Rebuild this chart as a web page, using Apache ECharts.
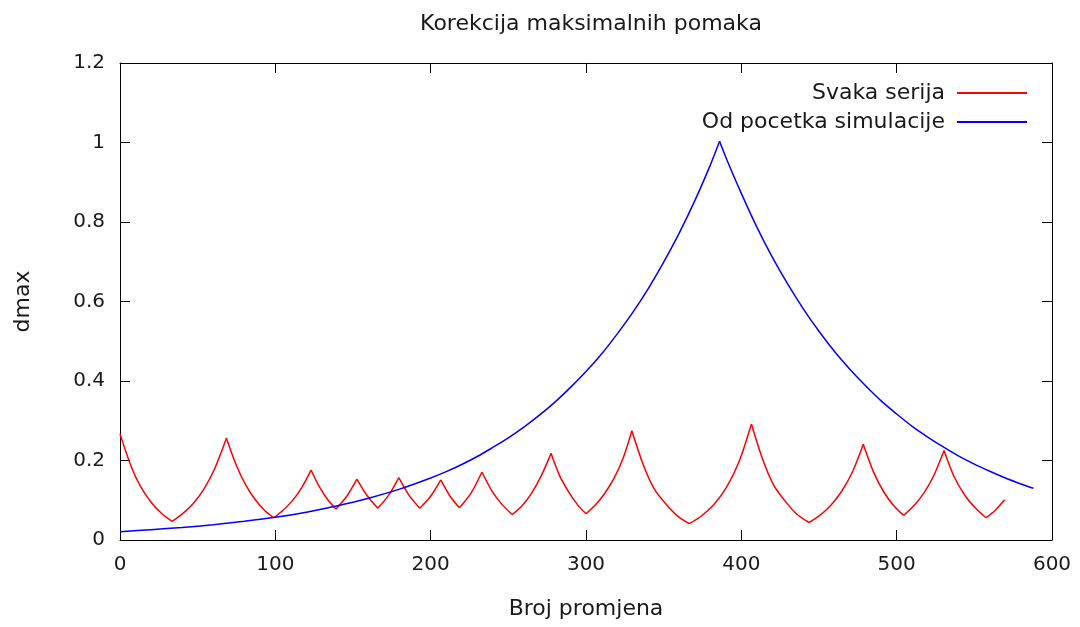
<!DOCTYPE html>
<html>
<head>
<meta charset="utf-8">
<script src="https://cdn.jsdelivr.net/npm/echarts@6/dist/echarts.min.js"></script>
<style>
  html, body { margin: 0; padding: 0; background: #fff; }
  #chart { width: 1080px; height: 627px; }
</style>
</head>
<body>
<div id="chart"></div>
<script>
// values
const redX = [0, 7, 13, 20, 27, 33.5, 40, 47, 54, 61, 68.5, 75, 81, 87, 93, 99, 105, 111, 117, 123,
  128, 134, 139, 146, 152.5, 159, 166, 173, 179.5, 186, 193, 200, 206.5, 212.5, 218.5, 226, 233, 239.5,
  246, 252.5, 259, 265, 271, 277.5, 283, 289, 294.5, 300, 306, 312, 318, 324, 329.5, 337, 344, 352, 359,
  366.5, 374.5, 382.5, 390.5, 398.5, 406.5, 414, 421, 429, 436, 443.5, 450.5, 457.5, 464.5, 471.5, 478.5,
  485, 491.5, 498, 504.5, 511, 517.5, 524, 530.5, 537, 544, 551, 557.5, 563.5, 569.5];
const redY = [0.267, 0.187, 0.136, 0.095, 0.066, 0.047, 0.065, 0.091, 0.128, 0.180, 0.256, 0.187, 0.138,
  0.102, 0.075, 0.056, 0.075, 0.099, 0.132, 0.176, 0.136, 0.100, 0.078, 0.110, 0.153, 0.112, 0.080, 0.113,
  0.157, 0.113, 0.080, 0.110, 0.151, 0.110, 0.081, 0.118, 0.171, 0.123, 0.089, 0.064, 0.087, 0.118, 0.160,
  0.218, 0.162, 0.120, 0.089, 0.066, 0.088, 0.117, 0.155, 0.207, 0.275, 0.188, 0.128, 0.088, 0.060, 0.041,
  0.061, 0.090, 0.133, 0.197, 0.292, 0.200, 0.137, 0.094, 0.064, 0.044, 0.062, 0.087, 0.122, 0.171, 0.241,
  0.172, 0.122, 0.087, 0.062, 0.086, 0.118, 0.163, 0.225, 0.159, 0.112, 0.079, 0.056, 0.075, 0.101];

const blueX = [0, 20, 40, 60, 80, 100, 120, 140, 160, 180, 200, 210, 220, 230, 240, 250, 260, 270, 280,
  290, 300, 310, 320, 330, 340, 350, 360, 370, 380, 386, 390, 400, 410, 420, 430, 440, 450, 460, 470, 480,
  490, 500, 510, 520, 530, 540, 550, 560, 570, 580, 588];
const blueY = [0.021, 0.026, 0.0315, 0.0385, 0.047, 0.057, 0.070, 0.086, 0.105, 0.128, 0.156, 0.172,
  0.190, 0.210, 0.233, 0.257, 0.284, 0.314, 0.347, 0.384, 0.424, 0.468, 0.518, 0.572, 0.632, 0.699, 0.772,
  0.853, 0.943, 1.003, 0.963, 0.872, 0.787, 0.711, 0.643, 0.581, 0.525, 0.474, 0.429, 0.388, 0.350, 0.317,
  0.286, 0.259, 0.234, 0.211, 0.191, 0.173, 0.156, 0.141, 0.130];

const seriesNames = ['Svaka serija', 'Od pocetka simulacije'];
const xTicks = { min: 0, max: 600, interval: 100 };
const yTicks = { min: 0, max: 1.2, interval: 0.2 };

const font = 'DejaVu Sans';
const txt = '#1a1a1a';

// cut a curve at its turning points so every piece can be smoothed and the cusps stay sharp
function pieces(xs, ys) {
  const out = [];
  let cur = [[xs[0], ys[0]]];
  for (let i = 1; i < xs.length; i++) {
    cur.push([xs[i], ys[i]]);
    const last = i === xs.length - 1;
    const turn = !last && (ys[i] - ys[i - 1]) * (ys[i + 1] - ys[i]) < 0;
    if (turn || last) {
      out.push(cur);
      cur = [[xs[i], ys[i]]];
    }
  }
  return out;
}

function curve(name, color, xs, ys) {
  return pieces(xs, ys).map(d => ({
    name, type: 'line', showSymbol: false, symbol: 'none', smooth: 0.3,
    itemStyle: { color },
    lineStyle: { color, width: 1.5 },
    data: d
  }));
}

const tick = { show: true, inside: true, length: 10, lineStyle: { color: '#000', width: 1 } };
const line = { show: true, onZero: false, lineStyle: { color: '#000', width: 1 } };

const chart = echarts.init(document.getElementById('chart'));
chart.setOption({
  animation: false,
  backgroundColor: '#fff',
  title: {
    text: 'Korekcija maksimalnih pomaka',
    left: 586,
    textAlign: 'center',
    top: 8,
    textStyle: { fontFamily: font, fontSize: 22, fontWeight: 'normal', color: txt }
  },
  legend: {
    orient: 'vertical',
    right: 48,
    top: 77,
    align: 'right',
    itemWidth: 70,
    itemHeight: 2,
    itemGap: 7,
    icon: 'path://M0,0H70V2H0Z',
    textStyle: { fontFamily: font, fontSize: 22, color: txt, padding: [0, 7, 0, 0] },
    data: seriesNames
  },
  grid: { left: 120, right: 28, top: 63, bottom: 87 },
  xAxis: [
    {
      type: 'value', position: 'bottom', ...xTicks,
      name: 'Broj promjena', nameLocation: 'middle', nameGap: 58,
      nameTextStyle: { fontFamily: font, fontSize: 22, color: txt },
      axisLine: line, axisTick: tick, splitLine: { show: false },
      axisLabel: { fontFamily: font, fontSize: 20, color: txt, margin: 15 }
    },
    {
      type: 'value', position: 'top', ...xTicks,
      axisLine: line, axisTick: tick, splitLine: { show: false },
      axisLabel: { show: false }
    }
  ],
  yAxis: [
    {
      type: 'value', position: 'left', ...yTicks,
      name: 'dmax', nameLocation: 'middle', nameGap: 86, nameRotate: 90,
      nameTextStyle: { fontFamily: font, fontSize: 22, color: txt },
      axisLine: line, axisTick: tick, splitLine: { show: false },
      axisLabel: { fontFamily: font, fontSize: 20, color: txt, margin: 15 }
    },
    {
      type: 'value', position: 'right', ...yTicks,
      axisLine: line, axisTick: tick, splitLine: { show: false },
      axisLabel: { show: false }
    }
  ],
  series: [
    ...curve(seriesNames[0], '#ff0000', redX, redY),
    ...curve(seriesNames[1], '#0000ff', blueX, blueY)
  ]
});
</script>
</body>
</html>
